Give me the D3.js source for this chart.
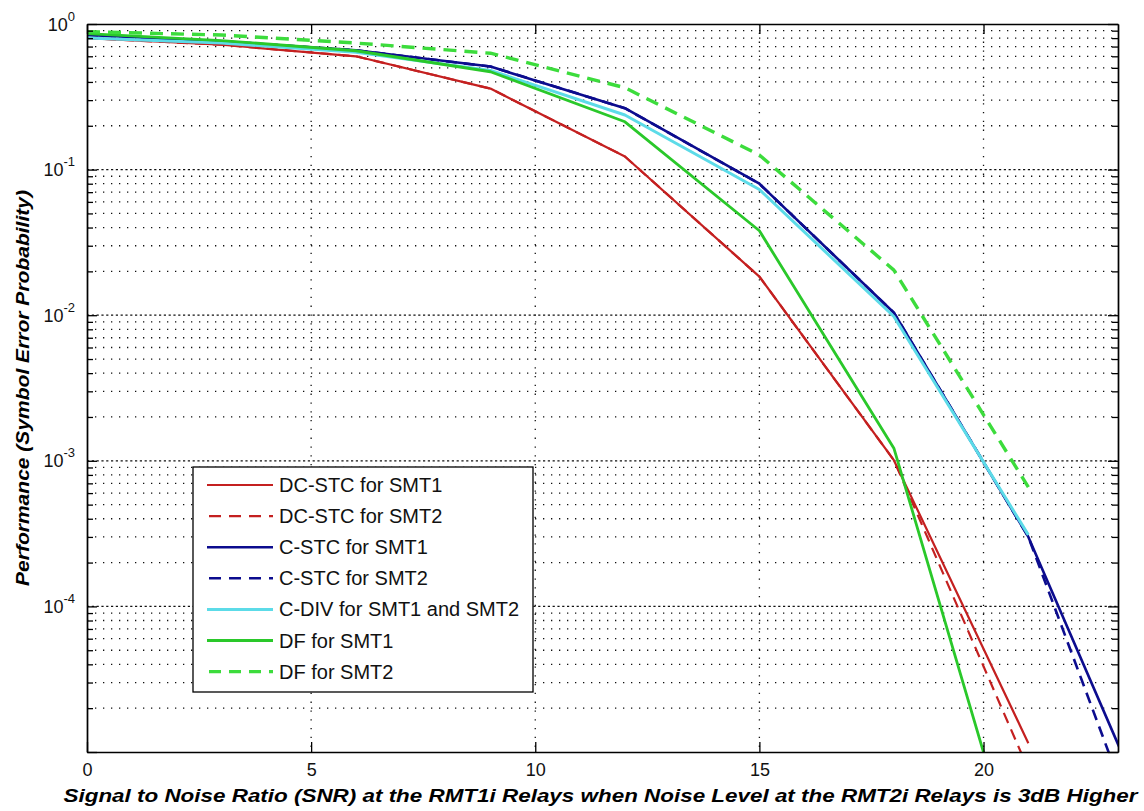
<!DOCTYPE html>
<html><head><meta charset="utf-8">
<script src="https://cdn.jsdelivr.net/npm/d3@7/dist/d3.min.js"></script>
<style>body{margin:0;background:#fff;} svg{display:block;}</style>
</head><body>
<svg id="chart" width="1144" height="811"></svg>
<script>
// ---- data ----
const snr = [0, 3, 6, 9, 12, 15, 18, 21, 24];
const dcstcSMT1 = [0.80, 0.72, 0.60, 0.36, 0.123, 0.0184, 1.01e-3, 1.15e-5];
const dcstcSMT2 = [0.80, 0.72, 0.60, 0.36, 0.123, 0.0184, 1.01e-3, 7.6e-6];
const cstcSMT1  = [0.84, 0.76, 0.66, 0.51, 0.264, 0.080, 0.0104, 3.0e-4, 2.2e-6];
const cstcSMT2  = [0.84, 0.76, 0.66, 0.51, 0.264, 0.080, 0.0104, 3.0e-4, 1.0e-6];
const cdivBoth  = [0.80, 0.74, 0.64, 0.48, 0.237, 0.073, 0.0098, 3.1e-4];
const dfSMT1    = [0.86, 0.77, 0.655, 0.47, 0.213, 0.038, 1.22e-3, 9e-7];
const dfSMT2    = [0.885, 0.84, 0.74, 0.63, 0.365, 0.126, 0.0204, 6.6e-4];

const seriesNames = ["DC-STC for SMT1", "DC-STC for SMT2", "C-STC for SMT1", "C-STC for SMT2",
                     "C-DIV for SMT1 and SMT2", "DF for SMT1", "DF for SMT2"];
const xTickValues = [0, 5, 10, 15, 20];
const yLabelExponents = [0, -1, -2, -3, -4];
const xTitle = "Signal to Noise Ratio (SNR) at the RMT1i Relays when Noise Level at the RMT2i Relays is 3dB Higher";
const yTitle = "Performance (Symbol Error Probability)";

// ---- styles ----
const seriesValues = [dcstcSMT1, dcstcSMT2, cstcSMT1, cstcSMT2, cdivBoth, dfSMT1, dfSMT2];
const styles = [
  {c: "#c42020", w: 2.2, d: null},
  {c: "#c42020", w: 2.2, d: "11,7"},
  {c: "#0c0c8e", w: 2.6, d: null},
  {c: "#0c0c8e", w: 2.6, d: "11,7"},
  {c: "#5cdbe8", w: 3.0, d: null},
  {c: "#2ac82a", w: 2.8, d: null},
  {c: "#3cdc3c", w: 3.4, d: "13,8"}
];

const L = 87, R = 1118, T = 24, B = 752;
const svg = d3.select("#chart");
const x = d3.scaleLinear().domain([0, 23]).range([L, R]);
const y = d3.scaleLog().domain([1e-5, 1]).range([B, T]);

svg.append("rect").attr("width", 1144).attr("height", 811).attr("fill", "#fff");
svg.append("defs").append("clipPath").attr("id", "clip")
  .append("rect").attr("x", L).attr("y", T).attr("width", R - L).attr("height", B - T);

// grid
const majorY = [1e-5, 1e-4, 1e-3, 1e-2, 1e-1, 1];
const minorY = [];
majorY.slice(0, 5).forEach(d => { for (let k = 2; k <= 9; k++) minorY.push(k * d); });
const grid = svg.append("g");
grid.selectAll("line.minor").data(minorY).enter().append("line")
  .attr("x1", L).attr("x2", R).attr("y1", d => y(d)).attr("y2", d => y(d))
  .attr("stroke", "#111").attr("stroke-width", 1.3).attr("stroke-dasharray", "1.3,6.7");
grid.selectAll("line.major").data(majorY.slice(1, 5)).enter().append("line")
  .attr("x1", L).attr("x2", R).attr("y1", d => y(d)).attr("y2", d => y(d))
  .attr("stroke", "#111").attr("stroke-width", 1.3).attr("stroke-dasharray", "2.2,2.6");
grid.selectAll("line.vx").data(xTickValues.slice(1)).enter().append("line")
  .attr("y1", T).attr("y2", B).attr("x1", d => x(d)).attr("x2", d => x(d))
  .attr("stroke", "#111").attr("stroke-width", 1.3).attr("stroke-dasharray", "1.3,7.5");

// series
const line = d3.line().x((d, i) => x(snr[i])).y(d => y(d));
const plot = svg.append("g").attr("clip-path", "url(#clip)");
seriesValues.forEach((vals, i) => {
  plot.append("path").datum(vals).attr("d", line).attr("fill", "none")
    .attr("stroke", styles[i].c).attr("stroke-width", styles[i].w)
    .attr("stroke-linejoin", "round")
    .attr("stroke-dasharray", styles[i].d);
});

// axes
const font = "'Liberation Sans', Arial, sans-serif";
const xb = svg.append("g").attr("transform", `translate(0,${B})`)
  .call(d3.axisBottom(x).tickValues(xTickValues).tickSize(-10).tickSizeOuter(0).tickPadding(11).tickFormat(d3.format("d")));
const xt = svg.append("g").attr("transform", `translate(0,${T})`)
  .call(d3.axisTop(x).tickValues(xTickValues).tickSize(-10).tickSizeOuter(0).tickFormat(""));
const yl = svg.append("g").attr("transform", `translate(${L},0)`)
  .call(d3.axisLeft(y).tickValues(majorY).tickSize(-10).tickSizeOuter(0).tickFormat(""));
const yr = svg.append("g").attr("transform", `translate(${R},0)`)
  .call(d3.axisRight(y).tickValues(majorY).tickSize(-10).tickSizeOuter(0).tickFormat(""));
const ylm = svg.append("g").attr("transform", `translate(${L},0)`)
  .call(d3.axisLeft(y).tickValues(minorY).tickSize(-6).tickSizeOuter(0).tickFormat(""));
const yrm = svg.append("g").attr("transform", `translate(${R},0)`)
  .call(d3.axisRight(y).tickValues(minorY).tickSize(-6).tickSizeOuter(0).tickFormat(""));
[xb, xt, yl, yr, ylm, yrm].forEach(g => {
  g.selectAll("path.domain").attr("stroke", "#000").attr("stroke-width", 1.4);
  g.selectAll(".tick line").attr("stroke", "#000").attr("stroke-width", 1.3);
});
xb.selectAll(".tick text").attr("font-family", font).attr("font-size", 18).attr("fill", "#111");

// y tick labels 10^n
const ylab = svg.append("g");
yLabelExponents.forEach(e => {
  const t = ylab.append("text").attr("x", 75).attr("y", y(Math.pow(10, e)) + 6.5)
    .attr("text-anchor", "end").attr("font-family", font).attr("fill", "#111");
  t.append("tspan").attr("font-size", 18).text("10");
  t.append("tspan").attr("font-size", 13).attr("dy", -10).text(String(e).replace("-", "-"));
});

// titles
svg.append("text").attr("x", (L + R) / 2 - 2).attr("y", 802).attr("text-anchor", "middle")
  .attr("font-family", font).attr("font-size", 18).attr("font-weight", "bold").attr("font-style", "italic")
  .attr("textLength", 1074).attr("lengthAdjust", "spacingAndGlyphs").attr("fill", "#000").text(xTitle);
svg.append("text").attr("transform", `translate(29,${(T + B) / 2}) rotate(-90)`).attr("text-anchor", "middle")
  .attr("font-family", font).attr("font-size", 18).attr("font-weight", "bold").attr("font-style", "italic")
  .attr("textLength", 396).attr("lengthAdjust", "spacingAndGlyphs").attr("fill", "#000").text(yTitle);

// legend
const lg = svg.append("g");
lg.append("rect").attr("x", 193).attr("y", 467).attr("width", 340).attr("height", 225)
  .attr("fill", "#fff").attr("stroke", "#000").attr("stroke-width", 1.3);
seriesNames.forEach((name, i) => {
  const ry = 485 + i * 31.1;
  lg.append("line").attr("x1", 207).attr("x2", 273).attr("y1", ry).attr("y2", ry)
    .attr("stroke", styles[i].c).attr("stroke-width", styles[i].w)
    .attr("stroke-dasharray", styles[i].d ? "12,8" : null).attr("stroke-dashoffset", styles[i].d ? -2 : null);
  lg.append("text").attr("x", 279).attr("y", ry + 7).attr("font-family", font).attr("font-size", 20)
    .attr("fill", "#111").text(name);
});
</script>
</body></html>
